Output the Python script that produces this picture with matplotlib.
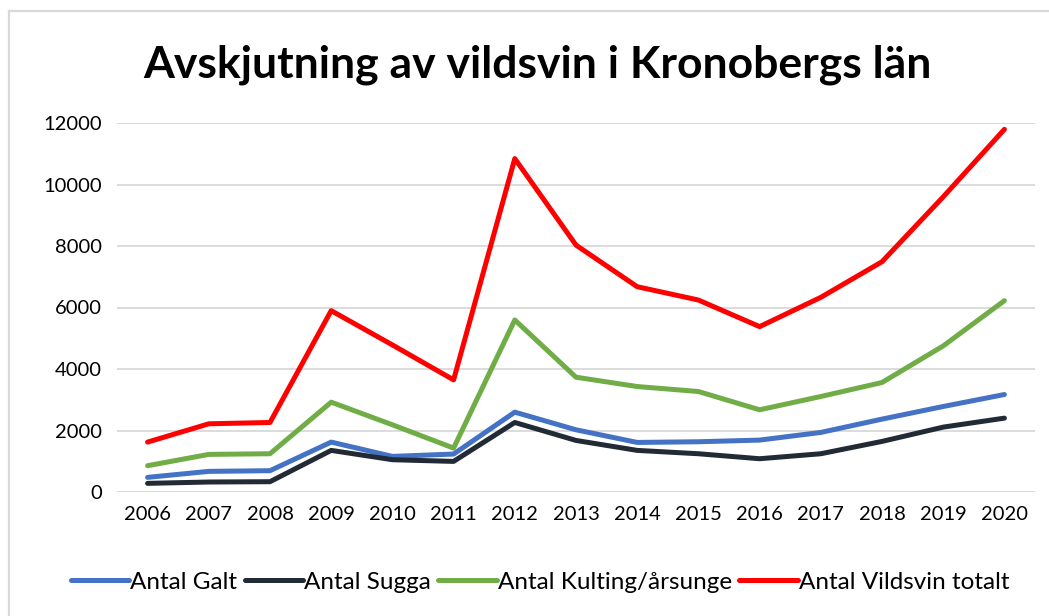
import numpy as np
import matplotlib.pyplot as plt
from matplotlib.lines import Line2D

# data
years = [2006, 2007, 2008, 2009, 2010, 2011, 2012, 2013, 2014, 2015, 2016, 2017, 2018, 2019, 2020]
galt = [476, 671, 693, 1623, 1158, 1234, 2597, 2023, 1612, 1634, 1688, 1937, 2370, 2781, 3170]
sugga = [281, 325, 335, 1353, 1050, 995, 2261, 1677, 1353, 1244, 1082, 1244, 1645, 2110, 2402]
kulting = [855, 1223, 1244, 2921, 2186, 1428, 5594, 3733, 3430, 3268, 2673, 3106, 3560, 4750, 6222]
totalt = [1623, 2218, 2261, 5897, 4783, 3646, 10842, 8029, 6676, 6243, 5378, 6330, 7488, 9598, 11794]

labels = ['Antal Galt', 'Antal Sugga', 'Antal Kulting/årsunge', 'Antal Vildsvin totalt']
colors = ['#4472C4', '#222A35', '#70AD47', '#FF0000']

plt.rcParams['font.family'] = ['Lato', 'DejaVu Sans']

W, H = 1049, 616
fig = plt.figure(figsize=(W / 100, H / 100), dpi=100)
ax = fig.add_axes([117/W, 1 - 492/H, (1035 - 117)/W, (492 - 123)/H])

x = np.arange(len(years))
for s, lab, c in zip([galt, sugga, kulting, totalt], labels, colors):
    ax.plot(x, s, color=c, lw=3.6, label=lab, solid_capstyle='round', solid_joinstyle='round')

ax.set_xlim(-0.5, len(years) - 0.5)
ax.set_ylim(0, 12000)
ax.set_yticks(range(0, 12001, 2000))
ax.set_xticks(x)
ax.set_xticklabels([str(y) for y in years])
ax.tick_params(axis='x', length=0, labelsize=14.5, pad=10)
ax.tick_params(axis='y', length=0, labelsize=14.5, pad=11)
ax.grid(axis='y', color='#D9D9D9', lw=1.3)
ax.set_axisbelow(True)
for sp in ax.spines.values():
    sp.set_visible(False)

fig.text(537/W, 1 - 65/H, 'Avskjutning av vildsvin i Kronobergs län',
         ha='center', va='center', fontsize=32, fontweight='bold')

fig.legend(loc='center', bbox_to_anchor=(540/W, 1 - 582/H), ncol=4, frameon=False,
           fontsize=17.5, handlelength=2.4, handletextpad=0.05, columnspacing=0.3)

# chart area border (only top and left edges show)
fig.add_artist(Line2D([8.5/W, 1], [1 - 11/H, 1 - 11/H], transform=fig.transFigure,
                      color='#D9D9D9', lw=1.6))
fig.add_artist(Line2D([8.5/W, 8.5/W], [0, 1 - 11/H], transform=fig.transFigure,
                      color='#D9D9D9', lw=1.6))

fig.savefig('out.png', dpi=100)
